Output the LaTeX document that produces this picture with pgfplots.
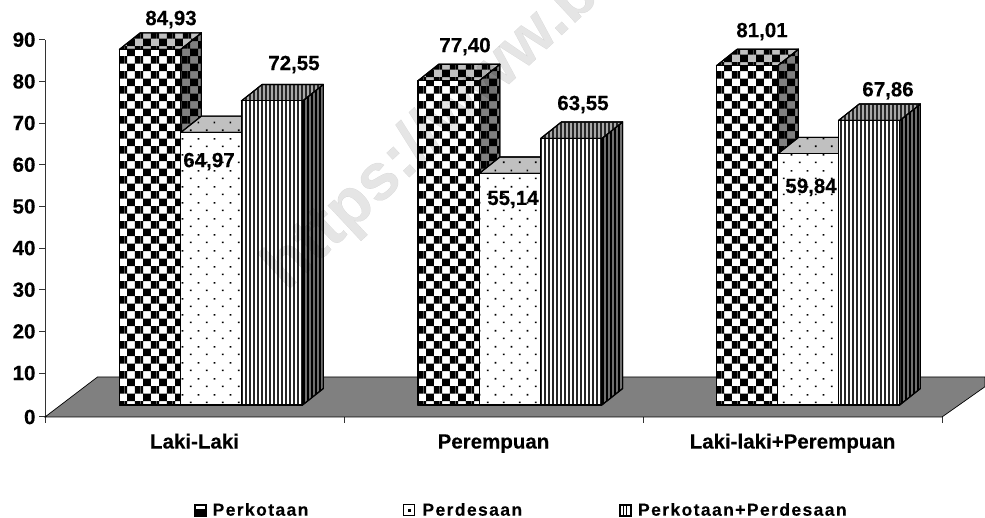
\documentclass[border=0pt]{standalone}
\usepackage{fontspec}
\setmainfont[BoldFeatures={FakeBold=0.25}]{Liberation Sans}
\newfontfamily\legfont[LetterSpace=8,BoldFeatures={FakeBold=0.2}]{Liberation Sans}
\usepackage{pgfplots}
\pgfplotsset{compat=1.18}
\usetikzlibrary{patterns}
\pgfdeclarepatternformonly{checkerB}{\pgfqpoint{0pt}{0pt}}{\pgfqpoint{15.71pt}{15.4pt}}{\pgfqpoint{15.71pt}{15.4pt}}{%
  \pgfpathrectangle{\pgfqpoint{10.03pt}{2.5pt}}{\pgfqpoint{5.68pt}{7.7pt}}%
  \pgfpathrectangle{\pgfqpoint{0pt}{2.5pt}}{\pgfqpoint{2.175pt}{7.7pt}}%
  \pgfpathrectangle{\pgfqpoint{2.175pt}{10.2pt}}{\pgfqpoint{7.855pt}{5.2pt}}%
  \pgfpathrectangle{\pgfqpoint{2.175pt}{0pt}}{\pgfqpoint{7.855pt}{2.5pt}}%
  \pgfusepath{fill}}
\pgfdeclarepatternformonly{dotsB}{\pgfqpoint{0pt}{0pt}}{\pgfqpoint{15.6pt}{16pt}}{\pgfqpoint{15.6pt}{16pt}}{%
  \pgfpathrectangle{\pgfqpoint{3pt}{3pt}}{\pgfqpoint{1.7pt}{1.7pt}}%
  \pgfpathrectangle{\pgfqpoint{10.8pt}{11pt}}{\pgfqpoint{1.7pt}{1.7pt}}%
  \pgfusepath{fill}}
\pgfdeclarepatternformonly{stripesB}{\pgfqpoint{0pt}{0pt}}{\pgfqpoint{4.4pt}{600pt}}{\pgfqpoint{4.4pt}{600pt}}{%
  \pgfpathrectangle{\pgfqpoint{0pt}{0pt}}{\pgfqpoint{2pt}{600pt}}%
  \pgfusepath{fill}}
\definecolor{floorgray}{HTML}{808080}
\definecolor{topgray}{HTML}{C0C0C0}
\tikzset{
  edgeB/.style={draw=black,line width=1.1pt,line join=round},
  cF/.style={edgeB,preaction={fill=white},pattern=checkerB,pattern color=black},
  cT/.style={edgeB,preaction={fill=topgray},pattern=checkerB,pattern color=black},
  cS/.style={edgeB,preaction={fill=floorgray},pattern=checkerB,pattern color=black},
  dF/.style={edgeB,preaction={fill=white},pattern=dotsB,pattern color=black},
  dT/.style={edgeB,preaction={fill=topgray},pattern=dotsB,pattern color=black},
  dS/.style={edgeB,preaction={fill=floorgray},pattern=dotsB,pattern color=black},
  sF/.style={edgeB,preaction={fill=white},pattern=stripesB,pattern color=black!85},
  sT/.style={edgeB,preaction={fill=black!34},pattern=stripesB,pattern color=black!85},
  sS/.style={edgeB,preaction={fill=black!56},pattern=stripesB,pattern color=black},
}
% x of left edge (pixels), plotted value, style prefix
\newcommand\threedbar[3]{%
  \pgfmathsetmacro\xa{#1}%
  \pgfmathsetmacro\xb{#1+61.2}%
  \pgfmathsetmacro\xc{#1+20.7}%
  \pgfmathsetmacro\xd{#1+81.9}%
  \pgfmathsetmacro\ya{2.33}%
  \pgfmathsetmacro\yb{#2+2.75}%
  \pgfmathsetmacro\yc{#2+2.75+3.95}%
  \pgfmathsetmacro\yd{2.33+3.95}%
  \edef\temp{%
    \noexpand\addplot[forget plot,#3S] coordinates {(\xb,\ya) (\xd,\yd) (\xd,\yc) (\xb,\yb)} --cycle;
    \noexpand\addplot[forget plot,#3T] coordinates {(\xa,\yb) (\xb,\yb) (\xd,\yc) (\xc,\yc)} --cycle;
    \noexpand\addplot[forget plot,#3F] coordinates {(\xa,\ya) (\xb,\ya) (\xb,\yb) (\xa,\yb)} --cycle;
  }\temp}
\begin{document}
\begin{tikzpicture}[x=1pt,y=1pt]
\useasboundingbox (0,0) rectangle (985,518);
\begin{axis}[
  at={(45pt,101pt)},
  anchor=south west,
  scale only axis,width=897pt,height=377.3pt,
  xmin=45,xmax=942,ymin=-0.55,ymax=90,
  clip=false,
  axis x line*=bottom,axis y line*=left,
  axis line style={-,line width=1pt,black!80},
  tick align=outside,
  major tick length=6pt,
  tick style={black!80,line width=1pt},
  ytick={-0.55,10,20,30,40,50,60,70,80,90},
  yticklabels={0,10,20,30,40,50,60,70,80,90},
  xtick={45,344,643,942},
  xticklabels={,,,},
  extra x ticks={194.5,493.5,792.5},
  extra x tick labels={Laki-Laki,Perempuan,Laki-laki+Perempuan},
  extra x tick style={major tick length=0pt,tick label style={text height=15pt,text depth=4pt,yshift=-13pt}},
  tick label style={font=\bfseries\fontsize{20.5}{22}\selectfont,black},
  legend columns=3,
  legend style={at={(axis cs:193.5,-22.9)},anchor=west,draw=none,fill=none,inner sep=0pt,
    nodes={inner sep=0pt,anchor=west,font=\legfont\bfseries\fontsize{17.5}{20}\selectfont},
    /tikz/column 1/.style={column sep=6.5pt},
    /tikz/column 2/.style={column sep=95pt},
    /tikz/column 3/.style={column sep=7pt},
    /tikz/column 4/.style={column sep=96.5pt},
    /tikz/column 5/.style={column sep=7pt}},
]
% floor
\addplot[forget plot,fill=floorgray,draw=black,line width=0.7pt]
  coordinates {(45,-0.55) (942,-0.55) (985,6.72) (985,9.05) (97.5,9.05)} --cycle;

% Laki-Laki
\threedbar{119.5}{84.93}{c}
\threedbar{180.7}{64.97}{d}
\threedbar{241.4}{72.55}{s}
% Perempuan
\threedbar{418}{77.40}{c}
\threedbar{479.2}{55.14}{d}
\threedbar{540.7}{63.55}{s}
% Laki-laki+Perempuan
\threedbar{716.5}{81.01}{c}
\threedbar{777.7}{59.84}{d}
\threedbar{838.5}{67.86}{s}

\addlegendimage{legend image code/.code={%
  \fill[black] (0pt,-6pt) rectangle (12pt,6pt);
  \fill[white] (2pt,2pt) rectangle (10pt,4pt);}}
\addlegendentry{Perkotaan}
\addlegendimage{legend image code/.code={%
  \draw[black,line width=1pt] (0.5pt,-5.5pt) rectangle (11.5pt,5.5pt);
  \fill[black] (5pt,-1pt) rectangle (7pt,1pt);}}
\addlegendentry{Perdesaan}
\addlegendimage{legend image code/.code={%
  \fill[black] (0pt,-6pt) rectangle (12pt,6pt);
  \fill[white] (2pt,-4pt) rectangle (3.5pt,4pt);
  \fill[white] (5.2pt,-4pt) rectangle (6.7pt,4pt);
  \fill[white] (8.4pt,-4pt) rectangle (9.9pt,4pt);}}
\addlegendentry{Perkotaan+Perdesaan}

% value labels
\tikzset{vl/.style={font=\bfseries\fontsize{20.5}{22}\selectfont,inner sep=0pt}}
\node[vl] at (axis cs:171,94.85) {84,93};
\node[vl] at (axis cs:209,60.75) {64,97};
\node[vl] at (axis cs:294,84.05) {72,55};
\node[vl] at (axis cs:465,88.35) {77,40};
\node[vl] at (axis cs:513,51.65) {55,14};
\node[vl] at (axis cs:583,74.45) {63,55};
\node[vl] at (axis cs:762,91.95) {81,01};
\node[vl] at (axis cs:811,54.55) {59,84};
\node[vl] at (axis cs:888,77.75) {67,86};
% watermark
\node[rotate=43,anchor=base west,inner sep=0pt,black,opacity=0.1,font=\bfseries\fontsize{66}{66}\selectfont]
  at (axis cs:286.5,29.5) {https://www.b};
\end{axis}
\end{tikzpicture}
\end{document}
